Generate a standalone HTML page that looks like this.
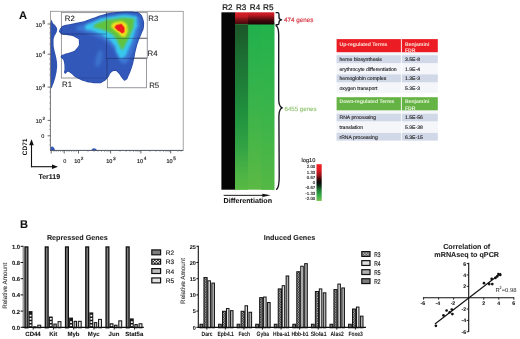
<!DOCTYPE html>
<html><head><meta charset="utf-8"><title>Figure</title>
<style>html,body{margin:0;padding:0;background:#fff;}body{width:520px;height:339px;overflow:hidden;}svg{display:block;filter:blur(0.28px);}</style>
</head><body>
<svg width="520" height="339" viewBox="0 0 520 339" font-family="Liberation Sans, Arial, sans-serif" text-rendering="geometricPrecision">
<defs>
<filter id="b1" x="-20%" y="-20%" width="140%" height="140%"><feGaussianBlur stdDeviation="0.6"/></filter>
<filter id="b2" x="-30%" y="-30%" width="160%" height="160%"><feGaussianBlur stdDeviation="1.6"/></filter>
<filter id="b3" x="-30%" y="-30%" width="160%" height="160%"><feGaussianBlur stdDeviation="1.1"/></filter>
<filter id="b4" x="-30%" y="-30%" width="160%" height="160%"><feGaussianBlur stdDeviation="0.8"/></filter>
<filter id="tb" x="-5%" y="-5%" width="110%" height="110%"><feGaussianBlur stdDeviation="0.35"/></filter>
<linearGradient id="gR3" x1="0" y1="0" x2="0" y2="1"><stop offset="0" stop-color="#dc2029"/><stop offset="0.35" stop-color="#c21a22"/><stop offset="0.55" stop-color="#8e1319"/><stop offset="0.8" stop-color="#5e0d11"/><stop offset="1" stop-color="#42090c"/></linearGradient>
<linearGradient id="gR4" x1="0" y1="0" x2="0" y2="1"><stop offset="0" stop-color="#d81e28"/><stop offset="0.25" stop-color="#b81820"/><stop offset="0.45" stop-color="#7e1016"/><stop offset="0.7" stop-color="#3c080b"/><stop offset="1" stop-color="#1c0405"/></linearGradient>
<linearGradient id="gG3" x1="0" y1="0" x2="0" y2="1"><stop offset="0" stop-color="#1b5528"/><stop offset="0.15" stop-color="#1c6a30"/><stop offset="0.35" stop-color="#1e7e38"/><stop offset="0.55" stop-color="#20923e"/><stop offset="0.75" stop-color="#33a344"/><stop offset="0.9" stop-color="#4cb445"/><stop offset="1" stop-color="#58b842"/></linearGradient>
<linearGradient id="gG4" x1="0" y1="0" x2="0" y2="1"><stop offset="0" stop-color="#20b04d"/><stop offset="0.5" stop-color="#3ab44a"/><stop offset="1" stop-color="#5cb944"/></linearGradient>
<linearGradient id="gG5" x1="0" y1="0" x2="0" y2="1"><stop offset="0" stop-color="#22b24c"/><stop offset="0.5" stop-color="#38b44a"/><stop offset="1" stop-color="#54b845"/></linearGradient>
<linearGradient id="gLeg" x1="0" y1="0" x2="0" y2="1"><stop offset="0" stop-color="#f02024"/><stop offset="0.15" stop-color="#e01c22"/><stop offset="0.3" stop-color="#9a1218"/><stop offset="0.42" stop-color="#300808"/><stop offset="0.5" stop-color="#080808"/><stop offset="0.58" stop-color="#0a2a14"/><stop offset="0.7" stop-color="#1f7a36"/><stop offset="0.85" stop-color="#36ad48"/><stop offset="1" stop-color="#74c24c"/></linearGradient>
<pattern id="chk" width="2.5" height="2.5" patternUnits="userSpaceOnUse" x="0.3" y="0.4"><rect width="2.5" height="2.5" fill="#161616"/><rect x="0.05" y="0.05" width="1.1" height="1.1" fill="#fff"/><rect x="1.3" y="1.3" width="1.1" height="1.1" fill="#fff"/></pattern>
<pattern id="chk2" width="3.2" height="3.2" patternUnits="userSpaceOnUse" x="152.4" y="259.2"><rect width="3.2" height="3.2" fill="#1a1a1a"/><rect x="0" y="0" width="1.6" height="1.6" fill="#fff"/><rect x="1.6" y="1.6" width="1.6" height="1.6" fill="#fff"/></pattern>
<pattern id="lad" width="4" height="3.2" patternUnits="userSpaceOnUse" x="0" y="326.9"><rect width="4" height="3.2" fill="#1c1c1c"/><rect x="0.9" y="0.9" width="2.2" height="1.5" fill="#fff"/></pattern>
<pattern id="vl2" width="40" height="2" patternUnits="userSpaceOnUse"><rect width="40" height="2" fill="#e2e2e2"/></pattern>
<pattern id="chk3" width="3" height="3" patternUnits="userSpaceOnUse" x="362.5" y="252.3"><rect width="3" height="3" fill="#1a1a1a"/><rect x="0" y="0" width="1.5" height="1.5" fill="#fff"/><rect x="1.5" y="1.5" width="1.5" height="1.5" fill="#fff"/></pattern>
<pattern id="vl" width="1.4" height="2" patternUnits="userSpaceOnUse"><rect width="1.4" height="2" fill="#e6e6e6"/><rect width="0.5" height="2" fill="#9a9a9a"/></pattern>
</defs>
<rect width="520" height="339" fill="#fff"/>
<text x="18.9" y="19" font-size="11.1" font-weight="bold" fill="#111" text-anchor="start"  stroke="#111" stroke-width="0.06">A</text>
<rect x="50.4" y="11.3" width="132.8" height="139.2" fill="none" stroke="#8c8c8c" stroke-width="0.8"/>
<rect x="61.3" y="12.7" width="45.4" height="21.3" stroke="#a4a4a4" stroke-width="0.75" fill="none"/>
<rect x="61.3" y="34" width="45.4" height="44" stroke="#a4a4a4" stroke-width="0.75" fill="none"/>
<rect x="106.7" y="12.7" width="40.5" height="25.5" stroke="#a4a4a4" stroke-width="0.75" fill="none"/>
<rect x="106.7" y="38.2" width="40.5" height="20" stroke="#a4a4a4" stroke-width="0.75" fill="none"/>
<rect x="107.3" y="58.4" width="39.3" height="29.4" stroke="#a4a4a4" stroke-width="0.75" fill="none"/>
<line x1="132.8" y1="58.2" x2="146.9" y2="58.2" stroke="#a8a8a8" stroke-width="1.8"/>
<g filter="url(#b1)">
<path d="M50.80,23.00 C51.52,16.01 52.01,22.73 53.50,23.80 C54.99,24.87 55.44,25.35 56.40,27.00 C57.36,28.65 57.21,28.27 57.10,30.00 C56.99,31.73 56.77,31.63 56.00,33.50 C55.23,35.37 54.84,34.73 54.20,37.00 C53.56,39.27 53.65,39.07 53.60,42.00 C53.55,44.93 53.52,44.80 54.00,48.00 C54.48,51.20 54.73,51.07 55.40,54.00 C56.07,56.93 56.05,56.20 56.50,59.00 C56.95,61.80 57.02,61.57 57.10,64.50 C57.18,67.43 57.15,67.07 56.80,70.00 C56.45,72.93 56.47,72.57 55.80,75.50 C55.13,78.43 55.10,78.47 54.30,81.00 C53.50,83.53 53.63,83.13 52.80,85.00 C51.97,86.87 51.73,89.33 51.20,88.00 C50.67,86.67 50.91,90.13 50.80,80.00 C50.69,69.87 50.80,65.20 50.80,50.00 C50.80,34.80 50.08,29.99 50.80,23.00 Z" fill="#2e52b0"/>
<path d="M60.00,30.60 C60.43,29.27 60.03,29.57 61.50,28.00 C62.97,26.43 60.90,27.07 64.40,25.90 C67.90,24.73 66.67,25.57 72.00,24.50 C77.33,23.43 76.07,23.67 80.40,22.70 C84.73,21.73 80.80,22.97 85.00,21.60 C89.20,20.23 87.10,20.67 93.00,18.60 C98.90,16.53 96.53,17.17 102.70,15.40 C108.87,13.63 105.73,14.27 111.50,13.30 C117.27,12.33 114.10,12.83 120.00,12.50 C125.90,12.17 124.20,12.27 129.20,12.30 C134.20,12.33 131.67,12.10 135.00,12.60 C138.33,13.10 136.77,11.83 139.20,13.80 C141.63,15.77 140.93,14.37 142.30,18.50 C143.67,22.63 143.73,21.27 143.30,26.20 C142.87,31.13 142.77,28.57 141.00,33.30 C139.23,38.03 139.87,35.10 138.00,40.40 C136.13,45.70 136.97,42.87 135.40,49.20 C133.83,55.53 134.60,53.63 133.30,59.40 C132.00,65.17 133.20,61.30 131.50,66.50 C129.80,71.70 130.17,70.70 128.20,75.00 C126.23,79.30 127.43,78.40 125.60,79.40 C123.77,80.40 125.07,80.40 122.70,78.00 C120.33,75.60 121.17,74.77 118.50,72.20 C115.83,69.63 117.43,70.20 114.70,70.30 C111.97,70.40 112.70,70.23 110.30,72.50 C107.90,74.77 110.13,74.10 107.50,77.10 C104.87,80.10 105.90,79.70 102.40,81.50 C98.90,83.30 101.13,82.40 97.00,82.50 C92.87,82.60 94.37,82.53 90.00,81.80 C85.63,81.07 88.30,81.87 83.90,80.30 C79.50,78.73 80.93,79.53 76.80,77.10 C72.67,74.67 74.43,75.03 71.50,73.00 C68.57,70.97 70.17,71.07 68.00,71.00 C65.83,70.93 65.93,73.70 65.00,72.80 C64.07,71.90 65.37,72.17 65.20,68.30 C65.03,64.43 65.40,64.63 64.50,61.20 C63.60,57.77 63.47,59.60 62.50,58.00 C61.53,56.40 60.97,57.47 61.60,56.40 C62.23,55.33 61.10,56.03 64.40,54.80 C67.70,53.57 67.37,54.57 71.50,52.70 C75.63,50.83 74.10,52.73 76.80,49.20 C79.50,45.67 79.90,46.23 79.60,42.10 C79.30,37.97 79.77,39.30 75.90,36.80 C72.03,34.30 72.40,35.60 68.00,34.60 C63.60,33.60 65.30,34.67 62.70,33.80 C60.10,32.93 61.10,33.07 60.20,32.00 C59.30,30.93 59.57,31.93 60.00,30.60 Z" fill="#3058ba" stroke="#2a49a4" stroke-width="1.4" stroke-linejoin="round" paint-order="stroke"/>
<path d="M50.4,150.6 L50.6,147.5 C52,145.6 54,146.5 55.2,150.6 Z" fill="#3058ba"/>
<path d="M91.2,150.6 C92.3,147.6 95.8,147.6 97,150.6 Z" fill="#3058ba"/>
</g>
<g filter="url(#b2)">
<path d="M76.00,28.50 C76.67,25.67 79.33,26.33 86.00,23.50 C92.67,20.67 89.33,22.17 96.00,20.00 C102.67,17.83 98.67,18.73 106.00,17.00 C113.33,15.27 109.67,15.73 118.00,14.80 C126.33,13.87 124.17,13.63 131.00,14.20 C137.83,14.77 135.33,13.57 138.50,16.50 C141.67,19.43 140.50,17.50 140.50,23.00 C140.50,28.50 140.50,25.33 138.50,33.00 C136.50,40.67 137.50,37.67 134.50,46.00 C131.50,54.33 133.00,52.17 129.50,58.00 C126.00,63.83 127.83,63.50 124.00,63.50 C120.17,63.50 121.67,63.17 118.00,58.00 C114.33,52.83 117.33,53.67 113.00,48.00 C108.67,42.33 111.00,45.00 105.00,41.00 C99.00,37.00 102.00,39.00 95.00,36.00 C88.00,33.00 90.33,34.50 84.00,32.00 C77.67,29.50 75.33,31.33 76.00,28.50 Z" fill="#3c7ad6" opacity="0.95"/>
<ellipse cx="99" cy="58.5" rx="3.2" ry="9" fill="#4084d8" opacity="0.6" transform="rotate(14 99 58.5)"/>
</g>
<g filter="url(#b3)">
<path d="M85.14,27.90 C85.14,24.50 85.73,25.10 94.38,21.39 C103.03,17.68 98.69,18.62 111.08,16.77 C123.47,14.91 122.87,13.97 131.55,15.82 C140.23,17.68 136.21,16.46 137.12,22.34 C138.03,28.21 136.77,25.41 134.28,33.46 C131.79,41.51 133.37,38.44 129.66,46.48 C125.95,54.53 127.17,55.16 123.15,57.61 C119.13,60.06 120.67,58.18 117.59,53.84 C114.51,49.50 117.94,50.16 113.91,44.59 C109.88,39.03 112.02,41.48 105.51,37.14 C99.00,32.80 101.17,34.66 94.38,31.57 C87.59,28.49 85.14,31.29 85.14,27.90 Z" fill="#38c8ee"/>
</g>
<g filter="url(#b3)">
<path d="M93.96,25.93 C95.21,23.40 97.71,23.44 103.38,21.23 C109.05,19.01 101.84,20.26 110.97,19.30 C120.11,18.34 123.21,16.77 130.77,18.34 C138.33,19.91 133.66,18.94 133.66,24.01 C133.66,29.07 133.59,26.58 130.77,33.53 C127.95,40.49 128.02,39.52 125.21,44.87 C122.39,50.22 124.21,49.26 122.32,49.58 C120.43,49.90 122.07,49.94 119.53,45.84 C117.00,41.73 118.82,42.02 114.72,37.28 C110.62,32.53 112.26,34.42 107.23,31.61 C102.20,28.79 104.06,30.71 99.63,28.82 C95.21,26.93 92.71,28.47 93.96,25.93 Z" fill="#60c23e"/>
</g>
<g filter="url(#b4)">
<path d="M111.50,25.30 C112.97,22.93 113.27,22.67 117.70,21.80 C122.13,20.93 121.57,20.63 124.80,22.70 C128.03,24.77 126.83,24.17 127.40,28.00 C127.97,31.83 127.97,31.27 126.50,34.20 C125.03,37.13 125.93,37.40 123.00,36.80 C120.07,36.20 120.93,35.03 117.70,32.40 C114.47,29.77 115.37,31.27 113.30,28.90 C111.23,26.53 110.03,27.67 111.50,25.30 Z" fill="#f4e41c"/>
</g>
<g filter="url(#b1)">
<path d="M114.36,25.89 C115.67,24.10 116.42,23.87 119.40,23.54 C122.39,23.20 121.35,22.79 123.32,24.88 C125.30,26.97 125.34,26.82 125.34,29.81 C125.34,32.79 125.30,33.17 123.32,33.84 C121.35,34.51 122.02,33.47 119.40,31.82 C116.79,30.18 117.16,30.89 115.48,28.91 C113.80,26.93 113.06,27.68 114.36,25.89 Z" fill="#f6a01c"/>
</g>
<g filter="url(#b1)">
<path d="M115.53,26.46 C116.58,25.02 117.18,24.84 119.58,24.57 C121.98,24.30 121.14,23.97 122.73,25.65 C124.32,27.33 124.35,27.21 124.35,29.61 C124.35,32.01 124.32,32.31 122.73,32.85 C121.14,33.39 121.68,32.55 119.58,31.23 C117.48,29.91 117.78,30.48 116.43,28.89 C115.08,27.30 114.48,27.90 115.53,26.46 Z" fill="#ee1b1b"/>
</g>
<rect x="61.3" y="12.7" width="45.4" height="21.3" stroke="#0c1430" stroke-width="0.55" fill="none" opacity="0.32"/>
<rect x="61.3" y="34" width="45.4" height="44" stroke="#0c1430" stroke-width="0.55" fill="none" opacity="0.32"/>
<rect x="106.7" y="12.7" width="40.5" height="25.5" stroke="#0c1430" stroke-width="0.55" fill="none" opacity="0.32"/>
<rect x="106.7" y="38.2" width="40.5" height="20" stroke="#0c1430" stroke-width="0.55" fill="none" opacity="0.32"/>
<rect x="107.3" y="58.4" width="39.3" height="29.4" stroke="#0c1430" stroke-width="0.55" fill="none" opacity="0.32"/>
<text x="64.8" y="20.8" font-size="7.8" font-weight="normal" fill="#1a1a1a" text-anchor="start" stroke="#1a1a1a" stroke-width="0.08">R2</text>
<text x="148.3" y="21" font-size="7.8" font-weight="normal" fill="#1a1a1a" text-anchor="start" stroke="#1a1a1a" stroke-width="0.08">R3</text>
<text x="147.6" y="56" font-size="7.8" font-weight="normal" fill="#1a1a1a" text-anchor="start" stroke="#1a1a1a" stroke-width="0.08">R4</text>
<text x="149.2" y="88" font-size="7.8" font-weight="normal" fill="#1a1a1a" text-anchor="start" stroke="#1a1a1a" stroke-width="0.08">R5</text>
<text x="62" y="86.6" font-size="7.8" font-weight="normal" fill="#1a1a1a" text-anchor="start" stroke="#1a1a1a" stroke-width="0.08">R1</text>
<text x="35.8" y="26.6" font-size="5.5" fill="#222" stroke="#222" stroke-width="0.18">10<tspan dx="0.5" dy="-2.8" font-size="4.67">5</tspan></text>
<text x="35.8" y="57" font-size="5.5" fill="#222" stroke="#222" stroke-width="0.18">10<tspan dx="0.5" dy="-2.8" font-size="4.67">4</tspan></text>
<text x="35.8" y="89.7" font-size="5.5" fill="#222" stroke="#222" stroke-width="0.18">10<tspan dx="0.5" dy="-2.8" font-size="4.67">3</tspan></text>
<text x="35.8" y="122.9" font-size="5.5" fill="#222" stroke="#222" stroke-width="0.18">10<tspan dx="0.5" dy="-2.8" font-size="4.67">2</tspan></text>
<text x="41.2" y="137.5" font-size="5.5" font-weight="normal" fill="#222" text-anchor="start"  stroke="#222" stroke-width="0.14">0</text>
<line x1="50.4" y1="22" x2="50.4" y2="150.5" stroke="#6a6a72" stroke-width="0.7"/>
<line x1="47.6" y1="24" x2="50.5" y2="24" stroke="#444" stroke-width="0.8"/>
<line x1="47.6" y1="54.2" x2="50.5" y2="54.2" stroke="#444" stroke-width="0.8"/>
<line x1="47.6" y1="87.1" x2="50.5" y2="87.1" stroke="#444" stroke-width="0.8"/>
<line x1="47.6" y1="120.4" x2="50.5" y2="120.4" stroke="#444" stroke-width="0.8"/>
<line x1="47.6" y1="135.8" x2="50.5" y2="135.8" stroke="#444" stroke-width="0.8"/>
<line x1="49" y1="28" x2="50.5" y2="28" stroke="#777" stroke-width="0.5"/>
<line x1="49" y1="33" x2="50.5" y2="33" stroke="#777" stroke-width="0.5"/>
<line x1="49" y1="38" x2="50.5" y2="38" stroke="#777" stroke-width="0.5"/>
<line x1="49" y1="44" x2="50.5" y2="44" stroke="#777" stroke-width="0.5"/>
<line x1="49" y1="59" x2="50.5" y2="59" stroke="#777" stroke-width="0.5"/>
<line x1="49" y1="64" x2="50.5" y2="64" stroke="#777" stroke-width="0.5"/>
<line x1="49" y1="69" x2="50.5" y2="69" stroke="#777" stroke-width="0.5"/>
<line x1="49" y1="75" x2="50.5" y2="75" stroke="#777" stroke-width="0.5"/>
<line x1="49" y1="92" x2="50.5" y2="92" stroke="#777" stroke-width="0.5"/>
<line x1="49" y1="97" x2="50.5" y2="97" stroke="#777" stroke-width="0.5"/>
<line x1="49" y1="103" x2="50.5" y2="103" stroke="#777" stroke-width="0.5"/>
<line x1="49" y1="109" x2="50.5" y2="109" stroke="#777" stroke-width="0.5"/>
<line x1="49" y1="126" x2="50.5" y2="126" stroke="#777" stroke-width="0.5"/>
<line x1="49" y1="129.5" x2="50.5" y2="129.5" stroke="#777" stroke-width="0.5"/>
<line x1="49" y1="140" x2="50.5" y2="140" stroke="#777" stroke-width="0.5"/>
<line x1="49" y1="145" x2="50.5" y2="145" stroke="#777" stroke-width="0.5"/>
<line x1="50" y1="150.4" x2="183.2" y2="150.4" stroke="#4a4f62" stroke-width="0.85"/>
<line x1="51.2" y1="150.3" x2="51.2" y2="153.5" stroke="#444" stroke-width="0.8"/>
<line x1="64.2" y1="150.3" x2="64.2" y2="153.5" stroke="#444" stroke-width="0.8"/>
<line x1="78.5" y1="150.3" x2="78.5" y2="153.5" stroke="#444" stroke-width="0.8"/>
<line x1="110.6" y1="150.3" x2="110.6" y2="153.5" stroke="#444" stroke-width="0.8"/>
<line x1="140.9" y1="150.3" x2="140.9" y2="153.5" stroke="#444" stroke-width="0.8"/>
<line x1="170.7" y1="150.3" x2="170.7" y2="153.5" stroke="#444" stroke-width="0.8"/>
<line x1="54.0" y1="150.3" x2="54.0" y2="152.1" stroke="#666" stroke-width="0.5"/>
<line x1="56.2" y1="150.3" x2="56.2" y2="152.1" stroke="#666" stroke-width="0.5"/>
<line x1="58.4" y1="150.3" x2="58.4" y2="152.1" stroke="#666" stroke-width="0.5"/>
<line x1="60.6" y1="150.3" x2="60.6" y2="152.1" stroke="#666" stroke-width="0.5"/>
<line x1="62.8" y1="150.3" x2="62.8" y2="152.1" stroke="#666" stroke-width="0.5"/>
<line x1="67.0" y1="150.3" x2="67.0" y2="152.1" stroke="#666" stroke-width="0.5"/>
<line x1="69.3" y1="150.3" x2="69.3" y2="152.1" stroke="#666" stroke-width="0.5"/>
<line x1="71.6" y1="150.3" x2="71.6" y2="152.1" stroke="#666" stroke-width="0.5"/>
<line x1="73.9" y1="150.3" x2="73.9" y2="152.1" stroke="#666" stroke-width="0.5"/>
<line x1="76.2" y1="150.3" x2="76.2" y2="152.1" stroke="#666" stroke-width="0.5"/>
<line x1="88.0" y1="150.3" x2="88.0" y2="152.1" stroke="#666" stroke-width="0.5"/>
<line x1="94.0" y1="150.3" x2="94.0" y2="152.1" stroke="#666" stroke-width="0.5"/>
<line x1="98.0" y1="150.3" x2="98.0" y2="152.1" stroke="#666" stroke-width="0.5"/>
<line x1="101.5" y1="150.3" x2="101.5" y2="152.1" stroke="#666" stroke-width="0.5"/>
<line x1="104.5" y1="150.3" x2="104.5" y2="152.1" stroke="#666" stroke-width="0.5"/>
<line x1="107.0" y1="150.3" x2="107.0" y2="152.1" stroke="#666" stroke-width="0.5"/>
<line x1="109.0" y1="150.3" x2="109.0" y2="152.1" stroke="#666" stroke-width="0.5"/>
<line x1="120.0" y1="150.3" x2="120.0" y2="152.1" stroke="#666" stroke-width="0.5"/>
<line x1="126.0" y1="150.3" x2="126.0" y2="152.1" stroke="#666" stroke-width="0.5"/>
<line x1="130.0" y1="150.3" x2="130.0" y2="152.1" stroke="#666" stroke-width="0.5"/>
<line x1="133.5" y1="150.3" x2="133.5" y2="152.1" stroke="#666" stroke-width="0.5"/>
<line x1="136.0" y1="150.3" x2="136.0" y2="152.1" stroke="#666" stroke-width="0.5"/>
<line x1="138.0" y1="150.3" x2="138.0" y2="152.1" stroke="#666" stroke-width="0.5"/>
<line x1="139.6" y1="150.3" x2="139.6" y2="152.1" stroke="#666" stroke-width="0.5"/>
<line x1="150.0" y1="150.3" x2="150.0" y2="152.1" stroke="#666" stroke-width="0.5"/>
<line x1="156.0" y1="150.3" x2="156.0" y2="152.1" stroke="#666" stroke-width="0.5"/>
<line x1="160.0" y1="150.3" x2="160.0" y2="152.1" stroke="#666" stroke-width="0.5"/>
<line x1="163.5" y1="150.3" x2="163.5" y2="152.1" stroke="#666" stroke-width="0.5"/>
<line x1="166.0" y1="150.3" x2="166.0" y2="152.1" stroke="#666" stroke-width="0.5"/>
<line x1="168.0" y1="150.3" x2="168.0" y2="152.1" stroke="#666" stroke-width="0.5"/>
<line x1="169.6" y1="150.3" x2="169.6" y2="152.1" stroke="#666" stroke-width="0.5"/>
<line x1="178.0" y1="150.3" x2="178.0" y2="152.1" stroke="#666" stroke-width="0.5"/>
<line x1="181.0" y1="150.3" x2="181.0" y2="152.1" stroke="#666" stroke-width="0.5"/>
<text x="64.7" y="163.2" font-size="5.5" font-weight="normal" fill="#2a2a2a" text-anchor="middle"  stroke="#2a2a2a" stroke-width="0.14">0</text>
<text x="74.2" y="163.2" font-size="5.5" fill="#222" stroke="#222" stroke-width="0.18">10<tspan dx="0.5" dy="-2.8" font-size="4.67">2</tspan></text>
<text x="106.3" y="163.2" font-size="5.5" fill="#222" stroke="#222" stroke-width="0.18">10<tspan dx="0.5" dy="-2.8" font-size="4.67">3</tspan></text>
<text x="137" y="163.2" font-size="5.5" fill="#222" stroke="#222" stroke-width="0.18">10<tspan dx="0.5" dy="-2.8" font-size="4.67">4</tspan></text>
<text x="166.5" y="163.2" font-size="5.5" fill="#222" stroke="#222" stroke-width="0.18">10<tspan dx="0.5" dy="-2.8" font-size="4.67">5</tspan></text>
<path d="M31.5,167.2 L31.5,144" stroke="#111" stroke-width="1.1" fill="none"/>
<path d="M29.2,145.2 L31.5,139.2 L33.8,145.2 Z" fill="#111"/>
<path d="M31,166.7 L53,166.7" stroke="#111" stroke-width="1.1" fill="none"/>
<path d="M52,164.4 L58,166.7 L52,169 Z" fill="#111"/>
<text transform="translate(27,155.2) rotate(-90)" font-size="6.5" font-weight="bold" fill="#111">CD71</text>
<text x="38.4" y="178.6" font-size="7.0" font-weight="bold" fill="#111" text-anchor="start"  stroke="#111" stroke-width="0.06">Ter119</text>
<text x="227.4" y="9.6" font-size="8.1" font-weight="normal" fill="#111" text-anchor="middle" stroke="#111" stroke-width="0.2">R2</text>
<text x="241.2" y="9.6" font-size="8.1" font-weight="normal" fill="#111" text-anchor="middle" stroke="#111" stroke-width="0.2">R3</text>
<text x="255" y="9.6" font-size="8.1" font-weight="normal" fill="#111" text-anchor="middle" stroke="#111" stroke-width="0.2">R4</text>
<text x="268.3" y="9.6" font-size="8.1" font-weight="normal" fill="#111" text-anchor="middle" stroke="#111" stroke-width="0.2">R5</text>
<rect x="221.4" y="12.3" width="13.899999999999995" height="177.39999999999998" fill="#050505"/>
<rect x="235.0" y="22.5" width="39.30000000000001" height="167.2" fill="url(#gG4)"/>
<rect x="235.0" y="24.7" width="13.099999999999994" height="165.0" fill="url(#gG3)"/>
<rect x="261.2" y="22.5" width="13.100000000000023" height="167.2" fill="url(#gG5)"/>
<rect x="247.9" y="12.3" width="26.400000000000016" height="12.2" fill="url(#gR4)"/>
<rect x="235.0" y="12.3" width="13.099999999999994" height="12.0" fill="url(#gR3)"/>
<path d="M275.6,12.6 L277.6,12.6 C278.7,12.6 279,13 279,14.2 L279,17.6 C279,18.8 279.8,19.6 281.6,19.8 C279.8,20 279,20.8 279,22 L279,23 C279,24.3 278.7,24.7 277.6,24.7 L275.6,24.7" fill="none" stroke="#15151f" stroke-width="1.35" stroke-linejoin="round"/>
<path d="M275.6,25.4 C278,26.4 278.7,30 278.7,35 L278.7,99 C278.7,104 279.7,107 282.3,107.8 C279.7,108.6 278.9,111.6 278.9,116.6 L279.2,176 C279.3,183 279,188 276.2,189.7" fill="none" stroke="#15151f" stroke-width="1.35" stroke-linejoin="round"/>
<text x="284" y="22" font-size="6.3" font-weight="normal" fill="#d5303c" text-anchor="start"  stroke="#d5303c" stroke-width="0.14">474 genes</text>
<text x="284.5" y="110.9" font-size="6.15" font-weight="normal" fill="#96c878" text-anchor="start"  stroke="#96c878" stroke-width="0.14">6455 genes</text>
<line x1="223.7" y1="195.35" x2="264" y2="195.35" stroke="#111" stroke-width="0.95"/>
<path d="M262.4,193.7 L270.7,195.35 L262.4,197 Z" fill="#111"/>
<text x="247.8" y="203.1" font-size="7.15" font-weight="bold" fill="#111" text-anchor="middle"  stroke="#111" stroke-width="0.06">Differentiation</text>
<text x="301.5" y="162" font-size="5.7" font-weight="normal" fill="#222" text-anchor="start"  stroke="#222" stroke-width="0.14">log10</text>
<rect x="316.5" y="164.2" width="5.2" height="36.7" fill="url(#gLeg)"/>
<text x="315.3" y="168.4" font-size="4.4" font-weight="normal" fill="#222" text-anchor="end"  stroke="#222" stroke-width="0.14">2.00</text>
<text x="315.3" y="173.63" font-size="4.4" font-weight="normal" fill="#222" text-anchor="end"  stroke="#222" stroke-width="0.14">1.33</text>
<text x="315.3" y="178.86" font-size="4.4" font-weight="normal" fill="#222" text-anchor="end"  stroke="#222" stroke-width="0.14">0.67</text>
<text x="315.3" y="184.09" font-size="4.4" font-weight="normal" fill="#222" text-anchor="end"  stroke="#222" stroke-width="0.14">0</text>
<text x="315.3" y="189.32" font-size="4.4" font-weight="normal" fill="#222" text-anchor="end"  stroke="#222" stroke-width="0.14">-0.67</text>
<text x="315.3" y="194.55" font-size="4.4" font-weight="normal" fill="#222" text-anchor="end"  stroke="#222" stroke-width="0.14">-1.33</text>
<text x="315.3" y="199.78" font-size="4.4" font-weight="normal" fill="#222" text-anchor="end"  stroke="#222" stroke-width="0.14">-2.00</text>
<rect x="336.6" y="52" width="101.19999999999999" height="40.8" fill="#f4f6fa"/>
<rect x="336.6" y="39.1" width="101.19999999999999" height="13.1" fill="#ec1c24"/>
<text x="339.5" y="46" font-size="5.1" font-weight="bold" fill="#fbd5cc" text-anchor="start"  stroke="#fbd5cc" stroke-width="0.06">Up-regulated Terms</text>
<text x="405" y="46" font-size="5.1" font-weight="bold" fill="#fbd5cc" text-anchor="start"  stroke="#fbd5cc" stroke-width="0.06">Benjamini</text>
<text x="405" y="51.8" font-size="5.1" font-weight="bold" fill="#fbd5cc" text-anchor="start"  stroke="#fbd5cc" stroke-width="0.06">FDR</text>
<rect x="336.6" y="55.30" width="101.19999999999999" height="7.8" fill="#d1d8e7"/>
<text x="339.5" y="61.05" font-size="5.1" font-weight="normal" fill="#2a2a2a" text-anchor="start"  stroke="#2a2a2a" stroke-width="0.14">heme biosynthesis</text>
<text x="405" y="61.05" font-size="5.1" font-weight="normal" fill="#2a2a2a" text-anchor="start"  stroke="#2a2a2a" stroke-width="0.14">3.5E-8</text>
<text x="339.5" y="70.62" font-size="5.1" font-weight="normal" fill="#2a2a2a" text-anchor="start"  stroke="#2a2a2a" stroke-width="0.14">erythrocyte differentiation</text>
<text x="405" y="70.62" font-size="5.1" font-weight="normal" fill="#2a2a2a" text-anchor="start"  stroke="#2a2a2a" stroke-width="0.14">1.9E-4</text>
<rect x="336.6" y="74.44" width="101.19999999999999" height="7.8" fill="#d1d8e7"/>
<text x="339.5" y="80.19" font-size="5.1" font-weight="normal" fill="#2a2a2a" text-anchor="start"  stroke="#2a2a2a" stroke-width="0.14">hemoglobin complex</text>
<text x="405" y="80.19" font-size="5.1" font-weight="normal" fill="#2a2a2a" text-anchor="start"  stroke="#2a2a2a" stroke-width="0.14">1.3E-3</text>
<text x="339.5" y="89.76" font-size="5.1" font-weight="normal" fill="#2a2a2a" text-anchor="start"  stroke="#2a2a2a" stroke-width="0.14">oxygen transport</text>
<text x="405" y="89.76" font-size="5.1" font-weight="normal" fill="#2a2a2a" text-anchor="start"  stroke="#2a2a2a" stroke-width="0.14">5.3E-3</text>
<rect x="336.6" y="110" width="101.19999999999999" height="30.8" fill="#f4f6fa"/>
<rect x="336.6" y="97.2" width="101.19999999999999" height="13.1" fill="#66b345"/>
<text x="339.5" y="103.4" font-size="5.1" font-weight="bold" fill="#dcefcf" text-anchor="start"  stroke="#dcefcf" stroke-width="0.06">Down-regulated Terms</text>
<text x="405" y="103.4" font-size="5.1" font-weight="bold" fill="#dcefcf" text-anchor="start"  stroke="#dcefcf" stroke-width="0.06">Benjamini</text>
<text x="405" y="109.5" font-size="5.1" font-weight="bold" fill="#dcefcf" text-anchor="start"  stroke="#dcefcf" stroke-width="0.06">FDR</text>
<rect x="336.6" y="113.70" width="101.19999999999999" height="7.6" fill="#d1d8e7"/>
<text x="339.5" y="119.35" font-size="5.1" font-weight="normal" fill="#2a2a2a" text-anchor="start"  stroke="#2a2a2a" stroke-width="0.14">RNA processing</text>
<text x="405" y="119.35" font-size="5.1" font-weight="normal" fill="#2a2a2a" text-anchor="start"  stroke="#2a2a2a" stroke-width="0.14">1.5E-56</text>
<text x="339.5" y="128.95" font-size="5.1" font-weight="normal" fill="#2a2a2a" text-anchor="start"  stroke="#2a2a2a" stroke-width="0.14">translation</text>
<text x="405" y="128.95" font-size="5.1" font-weight="normal" fill="#2a2a2a" text-anchor="start"  stroke="#2a2a2a" stroke-width="0.14">5.9E-38</text>
<rect x="336.6" y="132.90" width="101.19999999999999" height="7.6" fill="#d1d8e7"/>
<text x="339.5" y="138.55" font-size="5.1" font-weight="normal" fill="#2a2a2a" text-anchor="start"  stroke="#2a2a2a" stroke-width="0.14">rRNA processing</text>
<text x="405" y="138.55" font-size="5.1" font-weight="normal" fill="#2a2a2a" text-anchor="start"  stroke="#2a2a2a" stroke-width="0.14">6.3E-15</text>
<line x1="401.4" y1="39.1" x2="401.4" y2="92.8" stroke="#fff" stroke-width="0.9"/>
<line x1="401.4" y1="97.2" x2="401.4" y2="140.8" stroke="#fff" stroke-width="0.9"/>
<text x="19.9" y="228.3" font-size="11.1" font-weight="bold" fill="#111" text-anchor="start"  stroke="#111" stroke-width="0.06">B</text>
<text x="77.3" y="239.6" font-size="7.2" font-weight="bold" fill="#222" text-anchor="middle"  stroke="#222" stroke-width="0.06">Repressed Genes</text>
<rect x="22.5" y="245.8" width="1.9" height="82.0" fill="#9c9c9c"/>
<rect x="25.05" y="246.95" width="2.80" height="80.85" fill="#7d7d7d" stroke="#111" stroke-width="1.3"/>
<rect x="28.60" y="311.10" width="3.90" height="16.70" fill="#161616"/>
<rect x="29.65" y="324.50" width="1.80" height="1.7" fill="#fff"/>
<rect x="29.65" y="321.25" width="1.80" height="1.7" fill="#fff"/>
<rect x="29.65" y="318.00" width="1.80" height="1.7" fill="#fff"/>
<rect x="29.65" y="314.75" width="1.80" height="1.7" fill="#fff"/>
<rect x="33.60" y="326.83" width="2.40" height="0.97" fill="#bdbdbd" stroke="#111" stroke-width="1.0"/>
<rect x="37.80" y="325.21" width="2.90" height="2.59" fill="url(#vl2)" stroke="#111" stroke-width="1.0"/>
<line x1="33.20" y1="327.3" x2="33.20" y2="329.6" stroke="#111" stroke-width="0.9"/>
<text x="33.0" y="335.6" font-size="6.05" font-weight="bold" fill="#111" text-anchor="middle"  stroke="#111" stroke-width="0.06">CD44</text>
<rect x="45.30" y="246.95" width="2.80" height="80.85" fill="#7d7d7d" stroke="#111" stroke-width="1.3"/>
<rect x="48.85" y="316.53" width="3.90" height="11.27" fill="#161616"/>
<rect x="49.90" y="324.50" width="1.80" height="1.7" fill="#fff"/>
<rect x="49.90" y="321.25" width="1.80" height="1.7" fill="#fff"/>
<rect x="49.90" y="318.00" width="1.80" height="1.7" fill="#fff"/>
<rect x="53.85" y="324.07" width="2.40" height="3.73" fill="#bdbdbd" stroke="#111" stroke-width="1.0"/>
<rect x="58.05" y="321.64" width="2.90" height="6.16" fill="url(#vl2)" stroke="#111" stroke-width="1.0"/>
<line x1="53.45" y1="327.3" x2="53.45" y2="329.6" stroke="#111" stroke-width="0.9"/>
<text x="53.25" y="335.6" font-size="6.05" font-weight="bold" fill="#111" text-anchor="middle"  stroke="#111" stroke-width="0.06">Kit</text>
<rect x="65.55" y="246.95" width="2.80" height="80.85" fill="#7d7d7d" stroke="#111" stroke-width="1.3"/>
<rect x="69.10" y="317.58" width="3.90" height="10.22" fill="#161616"/>
<rect x="70.15" y="324.50" width="1.80" height="1.7" fill="#fff"/>
<rect x="70.15" y="321.25" width="1.80" height="1.7" fill="#fff"/>
<rect x="74.10" y="321.32" width="2.40" height="6.48" fill="#bdbdbd" stroke="#111" stroke-width="1.0"/>
<rect x="78.30" y="321.32" width="2.90" height="6.48" fill="url(#vl2)" stroke="#111" stroke-width="1.0"/>
<line x1="73.70" y1="327.3" x2="73.70" y2="329.6" stroke="#111" stroke-width="0.9"/>
<text x="73.5" y="335.6" font-size="6.05" font-weight="bold" fill="#111" text-anchor="middle"  stroke="#111" stroke-width="0.06">Myb</text>
<rect x="85.80" y="246.95" width="2.80" height="80.85" fill="#7d7d7d" stroke="#111" stroke-width="1.3"/>
<rect x="89.35" y="312.40" width="3.90" height="15.40" fill="#161616"/>
<rect x="90.40" y="324.50" width="1.80" height="1.7" fill="#fff"/>
<rect x="90.40" y="321.25" width="1.80" height="1.7" fill="#fff"/>
<rect x="90.40" y="318.00" width="1.80" height="1.7" fill="#fff"/>
<rect x="90.40" y="314.75" width="1.80" height="1.7" fill="#fff"/>
<rect x="94.35" y="322.62" width="2.40" height="5.18" fill="#bdbdbd" stroke="#111" stroke-width="1.0"/>
<rect x="98.55" y="319.38" width="2.90" height="8.42" fill="url(#vl2)" stroke="#111" stroke-width="1.0"/>
<line x1="93.95" y1="327.3" x2="93.95" y2="329.6" stroke="#111" stroke-width="0.9"/>
<text x="93.75" y="335.6" font-size="6.05" font-weight="bold" fill="#111" text-anchor="middle"  stroke="#111" stroke-width="0.06">Myc</text>
<rect x="106.05" y="246.95" width="2.80" height="80.85" fill="#7d7d7d" stroke="#111" stroke-width="1.3"/>
<rect x="109.60" y="323.25" width="3.90" height="4.55" fill="#161616"/>
<rect x="110.65" y="324.50" width="1.80" height="1.7" fill="#fff"/>
<rect x="114.60" y="325.21" width="2.40" height="2.59" fill="#bdbdbd" stroke="#111" stroke-width="1.0"/>
<rect x="118.80" y="320.83" width="2.90" height="6.97" fill="url(#vl2)" stroke="#111" stroke-width="1.0"/>
<line x1="114.20" y1="327.3" x2="114.20" y2="329.6" stroke="#111" stroke-width="0.9"/>
<text x="114.0" y="335.6" font-size="6.05" font-weight="bold" fill="#111" text-anchor="middle"  stroke="#111" stroke-width="0.06">Jun</text>
<rect x="126.30" y="246.95" width="2.80" height="80.85" fill="#7d7d7d" stroke="#111" stroke-width="1.3"/>
<rect x="129.85" y="318.39" width="3.90" height="9.41" fill="#161616"/>
<rect x="130.90" y="324.50" width="1.80" height="1.7" fill="#fff"/>
<rect x="130.90" y="321.25" width="1.80" height="1.7" fill="#fff"/>
<rect x="134.85" y="324.56" width="2.40" height="3.24" fill="#bdbdbd" stroke="#111" stroke-width="1.0"/>
<rect x="139.05" y="323.75" width="2.90" height="4.05" fill="url(#vl2)" stroke="#111" stroke-width="1.0"/>
<line x1="134.45" y1="327.3" x2="134.45" y2="329.6" stroke="#111" stroke-width="0.9"/>
<text x="134.25" y="335.6" font-size="6.05" font-weight="bold" fill="#111" text-anchor="middle"  stroke="#111" stroke-width="0.06">Stat5a</text>
<line x1="22.6" y1="327.3" x2="143.8" y2="327.3" stroke="#111" stroke-width="1.2"/>
<line x1="20.6" y1="327.30" x2="23.2" y2="327.30" stroke="#111" stroke-width="1"/>
<text x="20.1" y="329.8" font-size="5.9" font-weight="bold" fill="#111" text-anchor="end"  stroke="#111" stroke-width="0.06">0.0</text>
<line x1="20.6" y1="311.10" x2="23.2" y2="311.10" stroke="#111" stroke-width="1"/>
<text x="20.1" y="313.6" font-size="5.9" font-weight="bold" fill="#111" text-anchor="end"  stroke="#111" stroke-width="0.06">0.2</text>
<line x1="20.6" y1="294.90" x2="23.2" y2="294.90" stroke="#111" stroke-width="1"/>
<text x="20.1" y="297.40000000000003" font-size="5.9" font-weight="bold" fill="#111" text-anchor="end"  stroke="#111" stroke-width="0.06">0.4</text>
<line x1="20.6" y1="278.70" x2="23.2" y2="278.70" stroke="#111" stroke-width="1"/>
<text x="20.1" y="281.2" font-size="5.9" font-weight="bold" fill="#111" text-anchor="end"  stroke="#111" stroke-width="0.06">0.6</text>
<line x1="20.6" y1="262.50" x2="23.2" y2="262.50" stroke="#111" stroke-width="1"/>
<text x="20.1" y="265.0" font-size="5.9" font-weight="bold" fill="#111" text-anchor="end"  stroke="#111" stroke-width="0.06">0.8</text>
<line x1="20.6" y1="246.30" x2="23.2" y2="246.30" stroke="#111" stroke-width="1"/>
<text x="20.1" y="248.8" font-size="5.9" font-weight="bold" fill="#111" text-anchor="end"  stroke="#111" stroke-width="0.06">1.0</text>
<text transform="translate(7.2,285.8) rotate(-90)" font-size="6.3" fill="#333" stroke="#333" stroke-width="0.1" text-anchor="middle">Relative Amount</text>
<rect x="151.8" y="249.90" width="8.8" height="4.9" fill="#7d7d7d" stroke="#111" stroke-width="1.2"/>
<text x="165.8" y="254.9" font-size="6.6" font-weight="normal" fill="#222" text-anchor="start"  stroke="#222" stroke-width="0.14">R2</text>
<rect x="151.8" y="259.25" width="8.8" height="4.9" fill="url(#chk2)" stroke="#111" stroke-width="1.2"/>
<text x="165.8" y="264.25000000000006" font-size="6.6" font-weight="normal" fill="#222" text-anchor="start"  stroke="#222" stroke-width="0.14">R3</text>
<rect x="151.8" y="268.60" width="8.8" height="4.9" fill="#bdbdbd" stroke="#111" stroke-width="1.2"/>
<text x="165.8" y="273.6" font-size="6.6" font-weight="normal" fill="#222" text-anchor="start"  stroke="#222" stroke-width="0.14">R4</text>
<rect x="151.8" y="277.95" width="8.8" height="4.9" fill="url(#vl2)" stroke="#111" stroke-width="1.2"/>
<text x="165.8" y="282.95000000000005" font-size="6.6" font-weight="normal" fill="#222" text-anchor="start"  stroke="#222" stroke-width="0.14">R5</text>
<text x="289.5" y="239.6" font-size="7.2" font-weight="bold" fill="#222" text-anchor="middle"  stroke="#222" stroke-width="0.06">Induced Genes</text>
<rect x="200.00" y="324.24" width="2.70" height="3.56" fill="#7d7d7d" stroke="#111" stroke-width="1.0"/>
<rect x="203.95" y="277.58" width="3.20" height="50.22" fill="url(#chk)" stroke="#111" stroke-width="1.0"/>
<rect x="207.90" y="280.82" width="2.50" height="46.98" fill="#dedede" stroke="#111" stroke-width="1.0"/>
<rect x="211.85" y="283.09" width="2.60" height="44.71" fill="#b0b0b0" stroke="#111" stroke-width="1.0"/>
<line x1="206.80" y1="327.3" x2="206.80" y2="329.6" stroke="#111" stroke-width="0.9"/>
<text transform="translate(207.1,335.7) scale(0.79,1)" font-size="6.3" font-weight="bold" fill="#111" text-anchor="middle">Darc</text>
<rect x="218.57" y="324.24" width="2.70" height="3.56" fill="#7d7d7d" stroke="#111" stroke-width="1.0"/>
<rect x="222.52" y="311.28" width="3.20" height="16.52" fill="url(#chk)" stroke="#111" stroke-width="1.0"/>
<rect x="226.47" y="308.52" width="2.50" height="19.28" fill="#dedede" stroke="#111" stroke-width="1.0"/>
<rect x="230.42" y="310.63" width="2.60" height="17.17" fill="#b0b0b0" stroke="#111" stroke-width="1.0"/>
<line x1="225.37" y1="327.3" x2="225.37" y2="329.6" stroke="#111" stroke-width="0.9"/>
<text transform="translate(225.67,335.7) scale(0.79,1)" font-size="6.3" font-weight="bold" fill="#111" text-anchor="middle">Epb4.1</text>
<rect x="237.14" y="324.24" width="2.70" height="3.56" fill="#7d7d7d" stroke="#111" stroke-width="1.0"/>
<rect x="241.09" y="311.28" width="3.20" height="16.52" fill="url(#chk)" stroke="#111" stroke-width="1.0"/>
<rect x="245.04" y="305.77" width="2.50" height="22.03" fill="#dedede" stroke="#111" stroke-width="1.0"/>
<rect x="248.99" y="312.25" width="2.60" height="15.55" fill="#b0b0b0" stroke="#111" stroke-width="1.0"/>
<line x1="243.94" y1="327.3" x2="243.94" y2="329.6" stroke="#111" stroke-width="0.9"/>
<text transform="translate(244.23999999999998,335.7) scale(0.79,1)" font-size="6.3" font-weight="bold" fill="#111" text-anchor="middle">Fech</text>
<rect x="255.71" y="324.24" width="2.70" height="3.56" fill="#7d7d7d" stroke="#111" stroke-width="1.0"/>
<rect x="259.66" y="297.67" width="3.20" height="30.13" fill="url(#chk)" stroke="#111" stroke-width="1.0"/>
<rect x="263.61" y="297.02" width="2.50" height="30.78" fill="#dedede" stroke="#111" stroke-width="1.0"/>
<rect x="267.56" y="302.53" width="2.60" height="25.27" fill="#b0b0b0" stroke="#111" stroke-width="1.0"/>
<line x1="262.51" y1="327.3" x2="262.51" y2="329.6" stroke="#111" stroke-width="0.9"/>
<text transform="translate(262.81,335.7) scale(0.79,1)" font-size="6.3" font-weight="bold" fill="#111" text-anchor="middle">Gyba</text>
<rect x="274.28" y="324.24" width="2.70" height="3.56" fill="#7d7d7d" stroke="#111" stroke-width="1.0"/>
<rect x="278.23" y="288.92" width="3.20" height="38.88" fill="url(#chk)" stroke="#111" stroke-width="1.0"/>
<rect x="282.18" y="285.68" width="2.50" height="42.12" fill="#dedede" stroke="#111" stroke-width="1.0"/>
<rect x="286.13" y="275.96" width="2.60" height="51.84" fill="#b0b0b0" stroke="#111" stroke-width="1.0"/>
<line x1="281.08" y1="327.3" x2="281.08" y2="329.6" stroke="#111" stroke-width="0.9"/>
<text transform="translate(281.38,335.7) scale(0.79,1)" font-size="6.3" font-weight="bold" fill="#111" text-anchor="middle">Hba-a1</text>
<rect x="292.85" y="324.24" width="2.70" height="3.56" fill="#7d7d7d" stroke="#111" stroke-width="1.0"/>
<rect x="296.80" y="271.75" width="3.20" height="56.05" fill="url(#chk)" stroke="#111" stroke-width="1.0"/>
<rect x="300.75" y="266.24" width="2.50" height="61.56" fill="#dedede" stroke="#111" stroke-width="1.0"/>
<rect x="304.70" y="263.65" width="2.60" height="64.15" fill="#b0b0b0" stroke="#111" stroke-width="1.0"/>
<line x1="299.65" y1="327.3" x2="299.65" y2="329.6" stroke="#111" stroke-width="0.9"/>
<text transform="translate(299.95000000000005,335.7) scale(0.79,1)" font-size="6.3" font-weight="bold" fill="#111" text-anchor="middle">Hbb-b1</text>
<rect x="311.42" y="324.24" width="2.70" height="3.56" fill="#7d7d7d" stroke="#111" stroke-width="1.0"/>
<rect x="315.37" y="291.51" width="3.20" height="36.29" fill="url(#chk)" stroke="#111" stroke-width="1.0"/>
<rect x="319.32" y="288.92" width="2.50" height="38.88" fill="#dedede" stroke="#111" stroke-width="1.0"/>
<rect x="323.27" y="292.81" width="2.60" height="34.99" fill="#b0b0b0" stroke="#111" stroke-width="1.0"/>
<line x1="318.22" y1="327.3" x2="318.22" y2="329.6" stroke="#111" stroke-width="0.9"/>
<text transform="translate(318.52000000000004,335.7) scale(0.79,1)" font-size="6.3" font-weight="bold" fill="#111" text-anchor="middle">Slc4a1</text>
<rect x="329.99" y="324.24" width="2.70" height="3.56" fill="#7d7d7d" stroke="#111" stroke-width="1.0"/>
<rect x="333.94" y="289.57" width="3.20" height="38.23" fill="url(#chk)" stroke="#111" stroke-width="1.0"/>
<rect x="337.89" y="284.06" width="2.50" height="43.74" fill="#dedede" stroke="#111" stroke-width="1.0"/>
<rect x="341.84" y="287.95" width="2.60" height="39.85" fill="#b0b0b0" stroke="#111" stroke-width="1.0"/>
<line x1="336.79" y1="327.3" x2="336.79" y2="329.6" stroke="#111" stroke-width="0.9"/>
<text transform="translate(337.09000000000003,335.7) scale(0.79,1)" font-size="6.3" font-weight="bold" fill="#111" text-anchor="middle">Alas2</text>
<rect x="348.56" y="324.24" width="2.70" height="3.56" fill="#7d7d7d" stroke="#111" stroke-width="1.0"/>
<rect x="352.51" y="309.01" width="3.20" height="18.79" fill="url(#chk)" stroke="#111" stroke-width="1.0"/>
<rect x="356.46" y="307.06" width="2.50" height="20.74" fill="#dedede" stroke="#111" stroke-width="1.0"/>
<rect x="360.41" y="316.14" width="2.60" height="11.66" fill="#b0b0b0" stroke="#111" stroke-width="1.0"/>
<line x1="355.36" y1="327.3" x2="355.36" y2="329.6" stroke="#111" stroke-width="0.9"/>
<text transform="translate(355.66,335.7) scale(0.79,1)" font-size="6.3" font-weight="bold" fill="#111" text-anchor="middle">Foxe3</text>
<line x1="198.3" y1="245.8" x2="198.3" y2="327.8" stroke="#111" stroke-width="1.1"/>
<line x1="197.8" y1="327.3" x2="366" y2="327.3" stroke="#111" stroke-width="1.2"/>
<line x1="196.4" y1="327.30" x2="198.3" y2="327.30" stroke="#111" stroke-width="1"/>
<text x="195.8" y="329.5" font-size="5.5" font-weight="bold" fill="#111" text-anchor="end"  stroke="#111" stroke-width="0.06">0</text>
<line x1="196.4" y1="311.10" x2="198.3" y2="311.10" stroke="#111" stroke-width="1"/>
<text x="195.8" y="313.3" font-size="5.5" font-weight="bold" fill="#111" text-anchor="end"  stroke="#111" stroke-width="0.06">5</text>
<line x1="196.4" y1="294.90" x2="198.3" y2="294.90" stroke="#111" stroke-width="1"/>
<text x="195.8" y="297.1" font-size="5.5" font-weight="bold" fill="#111" text-anchor="end"  stroke="#111" stroke-width="0.06">10</text>
<line x1="196.4" y1="278.70" x2="198.3" y2="278.70" stroke="#111" stroke-width="1"/>
<text x="195.8" y="280.9" font-size="5.5" font-weight="bold" fill="#111" text-anchor="end"  stroke="#111" stroke-width="0.06">15</text>
<line x1="196.4" y1="262.50" x2="198.3" y2="262.50" stroke="#111" stroke-width="1"/>
<text x="195.8" y="264.7" font-size="5.5" font-weight="bold" fill="#111" text-anchor="end"  stroke="#111" stroke-width="0.06">20</text>
<line x1="196.4" y1="246.30" x2="198.3" y2="246.30" stroke="#111" stroke-width="1"/>
<text x="195.8" y="248.5" font-size="5.5" font-weight="bold" fill="#111" text-anchor="end"  stroke="#111" stroke-width="0.06">25</text>
<text transform="translate(185.3,281) rotate(-90)" font-size="6.3" fill="#333" stroke="#333" stroke-width="0.1" text-anchor="middle">Relative Amount</text>
<rect x="361.8" y="251.60" width="8.2" height="4.8" fill="url(#chk3)" stroke="#111" stroke-width="1.2"/>
<text transform="translate(374.2,256.60) scale(0.7,1)" font-size="7" fill="#1a1a1a" stroke="#1a1a1a" stroke-width="0.2">R3</text>
<rect x="361.8" y="260.65" width="8.2" height="4.8" fill="#dedede" stroke="#111" stroke-width="1.2"/>
<text transform="translate(374.2,265.65) scale(0.7,1)" font-size="7" fill="#1a1a1a" stroke="#1a1a1a" stroke-width="0.2">R4</text>
<rect x="361.8" y="269.70" width="8.2" height="4.8" fill="#b0b0b0" stroke="#111" stroke-width="1.2"/>
<text transform="translate(374.2,274.70) scale(0.7,1)" font-size="7" fill="#1a1a1a" stroke="#1a1a1a" stroke-width="0.2">R5</text>
<rect x="361.8" y="278.75" width="8.2" height="4.8" fill="#7d7d7d" stroke="#111" stroke-width="1.2"/>
<text transform="translate(374.2,283.75) scale(0.7,1)" font-size="7" fill="#1a1a1a" stroke="#1a1a1a" stroke-width="0.2">R2</text>
<text x="466.7" y="248.8" font-size="7.2" font-weight="bold" fill="#222" text-anchor="middle"  stroke="#222" stroke-width="0.06">Correlation of</text>
<text x="466.7" y="257.1" font-size="7.2" font-weight="bold" fill="#222" text-anchor="middle"  stroke="#222" stroke-width="0.06">mRNAseq to qPCR</text>
<line x1="468.7" y1="262.8" x2="468.7" y2="331.9" stroke="#111" stroke-width="1.1"/>
<line x1="422.9" y1="297.7" x2="514.2" y2="297.7" stroke="#111" stroke-width="1.1"/>
<line x1="423.58" y1="297.7" x2="423.58" y2="299.7" stroke="#111" stroke-width="0.9"/>
<text x="422.88" y="304.59999999999997" font-size="5.2" font-weight="bold" fill="#111" text-anchor="middle"  stroke="#111" stroke-width="0.06">-6</text>
<line x1="466.7" y1="331.78" x2="468.7" y2="331.78" stroke="#111" stroke-width="0.9"/>
<text x="466.09999999999997" y="333.68" font-size="5.2" font-weight="bold" fill="#111" text-anchor="end"  stroke="#111" stroke-width="0.06">-6</text>
<line x1="438.62" y1="297.7" x2="438.62" y2="299.7" stroke="#111" stroke-width="0.9"/>
<text x="437.92" y="304.59999999999997" font-size="5.2" font-weight="bold" fill="#111" text-anchor="middle"  stroke="#111" stroke-width="0.06">-4</text>
<line x1="466.7" y1="320.42" x2="468.7" y2="320.42" stroke="#111" stroke-width="0.9"/>
<text x="466.09999999999997" y="322.32" font-size="5.2" font-weight="bold" fill="#111" text-anchor="end"  stroke="#111" stroke-width="0.06">-4</text>
<line x1="453.66" y1="297.7" x2="453.66" y2="299.7" stroke="#111" stroke-width="0.9"/>
<text x="452.96" y="304.59999999999997" font-size="5.2" font-weight="bold" fill="#111" text-anchor="middle"  stroke="#111" stroke-width="0.06">-2</text>
<line x1="466.7" y1="309.06" x2="468.7" y2="309.06" stroke="#111" stroke-width="0.9"/>
<text x="466.09999999999997" y="310.96" font-size="5.2" font-weight="bold" fill="#111" text-anchor="end"  stroke="#111" stroke-width="0.06">-2</text>
<line x1="483.74" y1="297.7" x2="483.74" y2="299.7" stroke="#111" stroke-width="0.9"/>
<text x="483.74" y="304.59999999999997" font-size="5.2" font-weight="bold" fill="#111" text-anchor="middle"  stroke="#111" stroke-width="0.06">2</text>
<line x1="466.7" y1="286.34" x2="468.7" y2="286.34" stroke="#111" stroke-width="0.9"/>
<text x="466.09999999999997" y="288.24" font-size="5.2" font-weight="bold" fill="#111" text-anchor="end"  stroke="#111" stroke-width="0.06">2</text>
<line x1="498.78" y1="297.7" x2="498.78" y2="299.7" stroke="#111" stroke-width="0.9"/>
<text x="498.78" y="304.59999999999997" font-size="5.2" font-weight="bold" fill="#111" text-anchor="middle"  stroke="#111" stroke-width="0.06">4</text>
<line x1="466.7" y1="274.98" x2="468.7" y2="274.98" stroke="#111" stroke-width="0.9"/>
<text x="466.09999999999997" y="276.88" font-size="5.2" font-weight="bold" fill="#111" text-anchor="end"  stroke="#111" stroke-width="0.06">4</text>
<line x1="513.82" y1="297.7" x2="513.82" y2="299.7" stroke="#111" stroke-width="0.9"/>
<text x="513.82" y="304.59999999999997" font-size="5.2" font-weight="bold" fill="#111" text-anchor="middle"  stroke="#111" stroke-width="0.06">6</text>
<line x1="466.7" y1="263.62" x2="468.7" y2="263.62" stroke="#111" stroke-width="0.9"/>
<text x="466.09999999999997" y="265.52" font-size="5.2" font-weight="bold" fill="#111" text-anchor="end"  stroke="#111" stroke-width="0.06">6</text>
<line x1="434.9" y1="324" x2="500.9" y2="273.3" stroke="#111" stroke-width="1.15"/>
<circle cx="435.9" cy="325.8" r="1.35" fill="#111"/>
<circle cx="443.5" cy="315.4" r="1.35" fill="#111"/>
<circle cx="446.6" cy="310.5" r="1.35" fill="#111"/>
<circle cx="449.7" cy="312.3" r="1.35" fill="#111"/>
<circle cx="451.8" cy="309.5" r="1.35" fill="#111"/>
<circle cx="452.4" cy="314.1" r="1.35" fill="#111"/>
<circle cx="484" cy="283.2" r="1.35" fill="#111"/>
<circle cx="489.2" cy="284.1" r="1.35" fill="#111"/>
<circle cx="492.3" cy="284.1" r="1.35" fill="#111"/>
<circle cx="491.7" cy="278.9" r="1.35" fill="#111"/>
<circle cx="495.4" cy="277.9" r="1.35" fill="#111"/>
<circle cx="497.2" cy="276.4" r="1.35" fill="#111"/>
<circle cx="498.4" cy="274" r="1.35" fill="#111"/>
<circle cx="500.3" cy="274.9" r="1.35" fill="#111"/>
<text x="495.4" y="291.7" font-size="5.8" fill="#222">R<tspan dy="-2.4" font-size="3.8">2</tspan><tspan dy="2.4">=0.98</tspan></text>
</svg>
</body></html>
